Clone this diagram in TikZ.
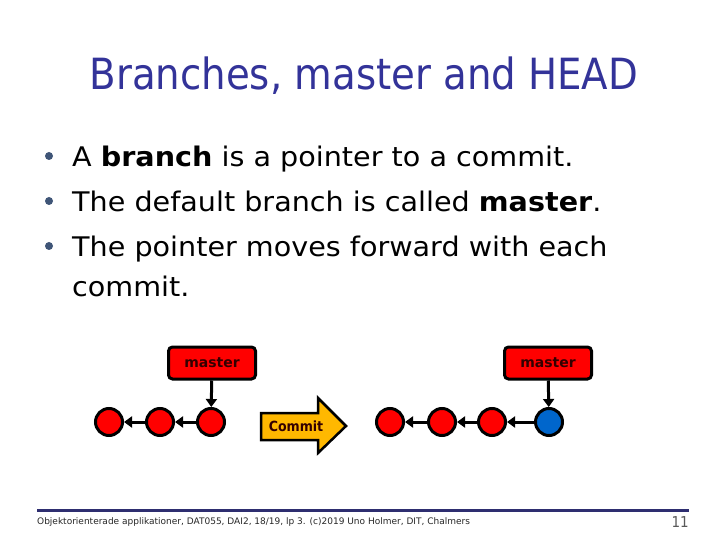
\documentclass[tikz,border=0pt]{standalone}
\usepackage{fontspec}
\setmainfont{DejaVu Sans Condensed}
\newfontfamily\bodyfont{DejaVu Sans}[FakeStretch=1.06]
\newfontfamily\widefont{DejaVu Sans}
\usetikzlibrary{arrows.meta}
\definecolor{titleblue}{HTML}{333399}
\definecolor{bulletblue}{HTML}{3F5577}
\definecolor{nodered}{HTML}{FF0000}
\definecolor{headblue}{HTML}{0066CC}
\definecolor{commitgold}{HTML}{FFB800}
\definecolor{footblue}{HTML}{2E2E70}
\definecolor{labeldark}{HTML}{330000}
\tikzset{
  commitnode/.style={circle, draw=black, line width=3bp, fill=nodered, minimum size=27bp, inner sep=0pt},
  headnode/.style={commitnode, fill=headblue},
  branchbox/.style={draw=black, line width=3bp, fill=nodered, rounded corners=4bp, minimum width=87bp, minimum height=32bp, inner sep=0pt, text=labeldark, font=\widefont\fontsize{14bp}{16bp}\selectfont\bfseries},
  parentarrow/.style={-{Triangle[length=8bp,width=11bp]}, line width=3bp},
  bodytext/.style={anchor=base west, inner sep=0pt, font=\bodyfont\fontsize{27bp}{32bp}\selectfont},
  bulletdot/.style={circle, fill=bulletblue, minimum size=8bp, inner sep=0pt}
}
\begin{document}
\begin{tikzpicture}[x=1bp, y=-1bp]
\useasboundingbox (0,0) rectangle (720,540);
% title
\node[titleblue, font=\fontsize{43bp}{48bp}\selectfont] (title) at (364,76) {Branches, master and HEAD};
% bullets
\node[bulletdot] (b1) at (49,156) {};
\node[bulletdot] (b2) at (49,201) {};
\node[bulletdot] (b3) at (49,246) {};
\node[bodytext] (t1) at (72,167) {A \textbf{branch} is a pointer to a commit.};
\node[bodytext] (t2) at (72,212) {The default branch is called \textbf{master}.};
\node[bodytext] (t3) at (72,257) {The pointer moves forward with each};
\node[bodytext] (t4) at (72,296) {commit.};
% left chain
\node[commitnode] (l1) at (109,422) {};
\node[commitnode] (l2) at (160,422) {};
\node[commitnode] (l3) at (211,422) {};
\node[branchbox] (lm) at (212,363) {master};
\draw[parentarrow] (l2) -- (l1);
\draw[parentarrow] (l3) -- (l2);
\draw[parentarrow] (lm) -- (l3);
% commit arrow
\draw[line width=2.5bp, fill=commitgold, line join=miter]
  (261,413) -- (318,413) -- (318,398) -- (346,426) -- (318,453) -- (318,440) -- (261,440) -- cycle;
\node[text=labeldark, font=\fontsize{14bp}{16bp}\selectfont\bfseries] (commitlbl) at (296,426) {Commit};
% right chain
\node[commitnode] (r1) at (390,422) {};
\node[commitnode] (r2) at (442,422) {};
\node[commitnode] (r3) at (492,422) {};
\node[headnode] (r4) at (549,422) {};
\node[branchbox] (rm) at (548,363) {master};
\draw[parentarrow] (r2) -- (r1);
\draw[parentarrow] (r3) -- (r2);
\draw[parentarrow] (r4) -- (r3);
\draw[parentarrow] (rm) -- (r4);
% footer
\draw[footblue, line width=3bp] (37,510.5) coordinate (fl) -- (689,510.5) coordinate (fr);
\node[anchor=base west, inner sep=0pt, font=\widefont\fontsize{9bp}{10bp}\selectfont, black!85] (foot) at (37,524) {Objektorienterade applikationer, DAT055, DAI2, 18/19, lp 3. (c)2019 Uno Holmer, DIT, Chalmers};
\node[anchor=base east, inner sep=0pt, font=\fontsize{15bp}{16bp}\selectfont, black!65] (page) at (689,527) {11};
\end{tikzpicture}
\end{document}
